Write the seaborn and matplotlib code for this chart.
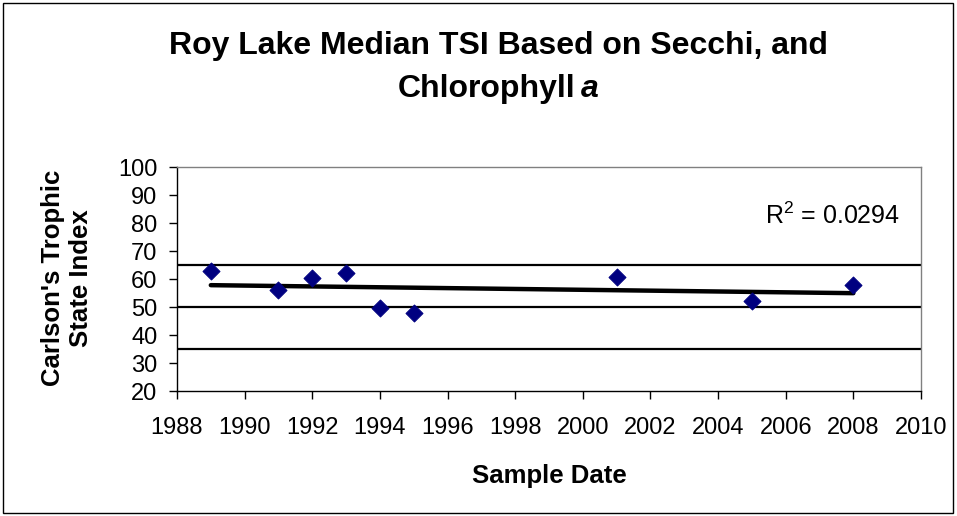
import numpy as np
import pandas as pd
import matplotlib
matplotlib.use("Agg")
import matplotlib.pyplot as plt
import seaborn as sns
from matplotlib.patches import Rectangle

years = [1989, 1991, 1992, 1993, 1994, 1995, 2001, 2005, 2008]
tsi = [63, 56, 60.3, 62.3, 49.5, 48, 60.8, 52.2, 58]
ref_lines = [65, 50, 35]
x_ticks = list(range(1988, 2011, 2))
y_ticks = list(range(20, 101, 10))
r2_label = "R$^2$ = 0.0294"

df = pd.DataFrame({"Year": years, "TSI": tsi})

sns.set_theme(style="white")
plt.rcParams["font.family"] = ["Liberation Sans", "DejaVu Sans"]
plt.rcParams["mathtext.fontset"] = "custom"
plt.rcParams["mathtext.rm"] = "Liberation Sans"
for k in ["text.color", "axes.labelcolor", "xtick.color", "ytick.color"]:
    plt.rcParams[k] = "black"

W, H = 957, 516
fig = plt.figure(figsize=(W / 100, H / 100), dpi=100)
ax = fig.add_axes([177 / W, 1 - 391 / H, (921 - 177) / W, (391 - 167) / H])

for v in ref_lines:
    ax.axhline(v, color="black", lw=1.6, zorder=1)

sns.regplot(data=df, x="Year", y="TSI", ax=ax, scatter=False, ci=None,
            truncate=True, line_kws=dict(color="black", lw=3.2, zorder=2))
sns.scatterplot(data=df, x="Year", y="TSI", ax=ax, marker="D", s=75,
                color="#000080", edgecolor="#000080", zorder=3)

ax.set_xlim(1988, 2010)
ax.set_ylim(20, 100)
ax.set_xticks(x_ticks)
ax.set_yticks(y_ticks)
ax.tick_params(axis="both", labelsize=17, direction="out", length=6, width=1,
               color="black", bottom=True, left=True)
ax.tick_params(axis="x", pad=13)
ax.tick_params(axis="y", pad=8)
for s in ["left", "bottom"]:
    ax.spines[s].set_color("black")
    ax.spines[s].set_linewidth(1)
for s in ["top", "right"]:
    ax.spines[s].set_color("#808080")
    ax.spines[s].set_linewidth(1)
ax.set_xlabel("")
ax.set_ylabel("")

fig.text(900 / W, 1 - 216 / H, r2_label, ha="right", va="center", fontsize=18)

fig.text(549 / W, 1 - 476 / H, "Sample Date", ha="center", va="center",
         fontsize=18.5, fontweight="bold")
fig.text(67 / W, 1 - 278 / H, "Carlson's Trophic\nState Index", ha="center",
         va="center", rotation=90, fontsize=18.5, fontweight="bold",
         multialignment="center", linespacing=1.22)

fig.text(498 / W, 1 - 46 / H, "Roy Lake Median TSI Based on Secchi, and",
         ha="center", va="center", fontsize=23, fontweight="bold")
fig.text(575 / W, 1 - 89 / H, "Chlorophyll", ha="right", va="center",
         fontsize=23, fontweight="bold")
fig.text(581 / W, 1 - 89 / H, "a", ha="left", va="center",
         fontsize=23, fontweight="bold", fontstyle="italic")

fig.patches.append(Rectangle((3 / W, 3 / H), 950 / W, 510 / H, fill=False,
                             edgecolor="black", lw=1, transform=fig.transFigure,
                             figure=fig))

fig.savefig("out.png", dpi=100)
